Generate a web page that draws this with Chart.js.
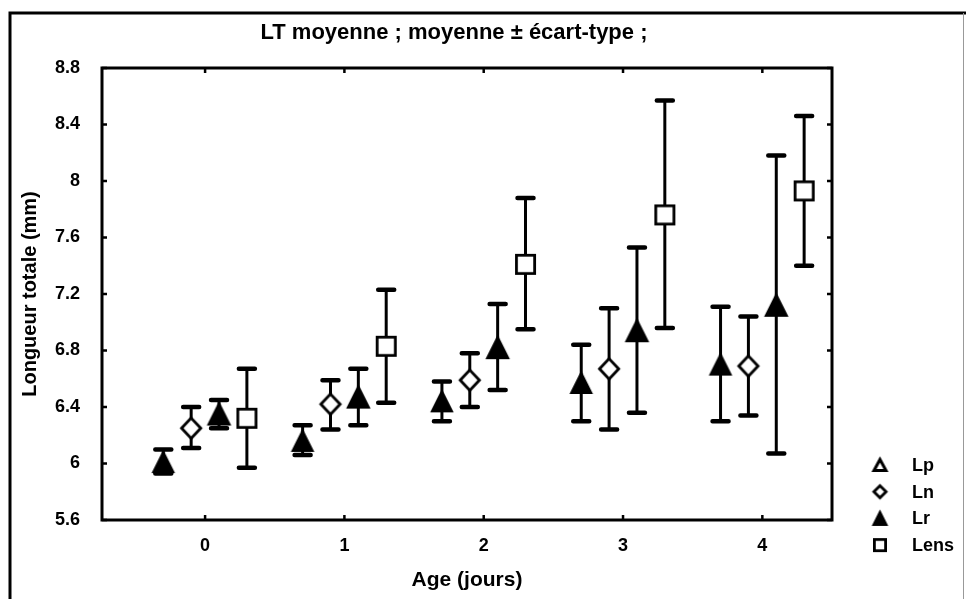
<!DOCTYPE html>
<html><head><meta charset="utf-8">
<script src="https://cdn.jsdelivr.net/npm/chart.js@4/dist/chart.umd.min.js"></script>
<style>html,body{margin:0;padding:0;background:#fff}canvas{display:block}</style>
</head><body>
<canvas id="c" width="966" height="599"></canvas>
<script>
// ---- data ----
const ages = [0, 1, 2, 3, 4];
const seriesNames = ['Lp', 'Ln', 'Lr', 'Lens'];
const seriesOffsets = [-0.3, -0.1, 0.1, 0.3];
const lpMean  = [6.01, 6.16, 6.44, 6.57, 6.70];
const lpLow   = [5.93, 6.06, 6.30, 6.30, 6.30];
const lpHigh  = [6.10, 6.27, 6.58, 6.84, 7.11];
const lnMean  = [6.25, 6.42, 6.59, 6.67, 6.69];
const lnLow   = [6.11, 6.24, 6.40, 6.24, 6.34];
const lnHigh  = [6.40, 6.59, 6.78, 7.10, 7.04];
const lrMean  = [6.35, 6.47, 6.82, 6.94, 7.12];
const lrLow   = [6.25, 6.27, 6.52, 6.36, 6.07];
const lrHigh  = [6.45, 6.67, 7.13, 7.53, 8.18];
const lensMean = [6.32, 6.83, 7.41, 7.76, 7.93];
const lensLow  = [5.97, 6.43, 6.95, 6.96, 7.40];
const lensHigh = [6.67, 7.23, 7.88, 8.57, 8.46];
const yTickValues = [5.6, 6, 6.4, 6.8, 7.2, 7.6, 8, 8.4, 8.8];
const yTickLabels = ['5.6', '6', '6.4', '6.8', '7.2', '7.6', '8', '8.4', '8.8'];
const xTickLabels = ['0', '1', '2', '3', '4'];
const chartTitle = 'LT moyenne ; moyenne \u00b1 \u00e9cart-type ;';
const xTitle = 'Age (jours)';
const yTitle = 'Longueur totale (mm)';

const FONT = '"Liberation Sans", Arial, Helvetica, sans-serif';

const means = [lpMean, lnMean, lrMean, lensMean];
const lows = [lpLow, lnLow, lrLow, lensLow];
const highs = [lpHigh, lnHigh, lrHigh, lensHigh];

// marker images
function makeMarker(kind, fill, w, h, lw) {
  const c = document.createElement('canvas');
  c.width = w + 4; c.height = h + 4;
  const g = c.getContext('2d');
  const cx = c.width / 2, cy = c.height / 2;
  g.beginPath();
  if (kind === 'tri') {
    g.moveTo(cx, cy - h / 2 + lw / 2);
    g.lineTo(cx + w / 2 - lw / 2, cy + h / 2 - lw / 2);
    g.lineTo(cx - w / 2 + lw / 2, cy + h / 2 - lw / 2);
    g.closePath();
  } else if (kind === 'dia') {
    g.moveTo(cx, cy - h / 2 + lw / 2);
    g.lineTo(cx + w / 2 - lw / 2, cy);
    g.lineTo(cx, cy + h / 2 - lw / 2);
    g.lineTo(cx - w / 2 + lw / 2, cy);
    g.closePath();
  } else {
    g.rect(cx - w / 2 + lw / 2, cy - h / 2 + lw / 2, w - lw, h - lw);
  }
  g.fillStyle = fill; g.fill();
  g.lineJoin = 'miter';
  g.strokeStyle = '#000'; g.lineWidth = lw; g.stroke();
  return c;
}
const markers = [
  makeMarker('tri', '#000', 22, 22, 2.5),
  makeMarker('dia', '#fff', 22, 23, 2.8),
  makeMarker('tri', '#000', 23, 23, 2.5),
  makeMarker('sq', '#fff', 21, 21, 2.8)
];
const legendMarkers = [
  makeMarker('tri', '#fff', 15, 14, 3),
  makeMarker('dia', '#fff', 15, 15, 2.8),
  makeMarker('tri', '#000', 15, 15, 2.5),
  makeMarker('sq', '#fff', 14, 14, 2.8)
];

const datasets = seriesNames.map((name, k) => ({
  label: name,
  data: ages.map((a, i) => ({x: a + seriesOffsets[k], y: means[k][i]})),
  errLow: lows[k],
  errHigh: highs[k],
  pointStyle: markers[k],
  pointRadius: 10,
  showLine: false,
  clip: false
}));

const errorBars = {
  id: 'errorBars',
  beforeDatasetsDraw(chart) {
    const ctx = chart.ctx, ys = chart.scales.y;
    ctx.save();
    ctx.strokeStyle = '#000';
    chart.data.datasets.forEach((ds, di) => {
      const meta = chart.getDatasetMeta(di);
      meta.data.forEach((pt, i) => {
        const x = pt.x;
        const yl = ys.getPixelForValue(ds.errLow[i]);
        const yh = ys.getPixelForValue(ds.errHigh[i]);
        ctx.lineWidth = 3;
        ctx.lineCap = 'butt';
        ctx.beginPath(); ctx.moveTo(x, yl); ctx.lineTo(x, yh); ctx.stroke();
        ctx.lineWidth = 4.5;
        ctx.lineCap = 'round';
        ctx.beginPath();
        ctx.moveTo(x - 8, yl); ctx.lineTo(x + 8, yl);
        ctx.moveTo(x - 8, yh); ctx.lineTo(x + 8, yh);
        ctx.stroke();
      });
    });
    ctx.restore();
  }
};

const frame = {
  id: 'frame',
  afterDatasetsDraw(chart) {
    const ctx = chart.ctx, a = chart.chartArea;
    const xs = chart.scales.x, ys = chart.scales.y;
    ctx.save();
    ctx.strokeStyle = '#000';
    ctx.lineWidth = 3;
    ctx.strokeRect(a.left, a.top, a.right - a.left, a.bottom - a.top);
    ctx.lineWidth = 2.5;
    ctx.beginPath();
    xs.ticks.forEach(t => {
      const px = xs.getPixelForValue(t.value);
      ctx.moveTo(px, a.bottom); ctx.lineTo(px, a.bottom - 5);
      ctx.moveTo(px, a.top); ctx.lineTo(px, a.top + 5);
    });
    ys.ticks.forEach(t => {
      const py = ys.getPixelForValue(t.value);
      ctx.moveTo(a.left, py); ctx.lineTo(a.left + 5, py);
      ctx.moveTo(a.right, py); ctx.lineTo(a.right - 5, py);
    });
    ctx.stroke();
    ctx.restore();
  },
  afterDraw(chart) {
    const ctx = chart.ctx;
    ctx.save();
    // outer page frame
    ctx.strokeStyle = '#000';
    ctx.lineWidth = 3;
    ctx.beginPath();
    ctx.moveTo(10, 599); ctx.lineTo(10, 13); ctx.lineTo(966, 13);
    ctx.stroke();
    ctx.strokeStyle = '#999';
    ctx.lineWidth = 1;
    ctx.beginPath(); ctx.moveTo(963.5, 13); ctx.lineTo(963.5, 599); ctx.stroke();
    // title
    ctx.fillStyle = '#000';
    ctx.font = 'bold 22px ' + FONT;
    ctx.textAlign = 'center';
    ctx.textBaseline = 'middle';
    ctx.fillText(chartTitle, 454, 33);
    // legend
    ctx.font = 'bold 18px ' + FONT;
    ctx.textAlign = 'left';
    chart.data.datasets.forEach((ds, k) => {
      const y = 465 + k * 26.7;
      const m = legendMarkers[k];
      ctx.drawImage(m, 880 - m.width / 2, y - m.height / 2);
      ctx.fillStyle = '#000';
      ctx.fillText(ds.label, 912, y + 1);
    });
    ctx.restore();
  }
};

new Chart(document.getElementById('c'), {
  type: 'scatter',
  data: {datasets},
  options: {
    responsive: false,
    animation: false,
    events: [],
    layout: {padding: {left: 0, right: 134, top: 68, bottom: 0}},
    plugins: {legend: {display: false}, tooltip: {enabled: false}, title: {display: false}},
    scales: {
      x: {
        type: 'linear', min: -0.74, max: 4.5,
        grid: {display: false, drawTicks: false},
        border: {display: false},
        afterBuildTicks(s) { s.ticks = ages.map(v => ({value: v})); },
        afterFit(s) { s.height = 79; },
        ticks: {
          padding: 15, color: '#000',
          font: {family: FONT, size: 18, weight: 'bold'},
          callback: (v) => xTickLabels[ages.indexOf(v)] ?? ''
        },
        title: {display: true, text: xTitle, color: '#000', padding: {top: 0, bottom: 6},
          font: {family: FONT, size: 21, weight: 'bold'}}
      },
      y: {
        type: 'linear', min: 5.6, max: 8.8,
        grid: {display: false, drawTicks: false},
        border: {display: false},
        afterBuildTicks(s) { s.ticks = yTickValues.map(v => ({value: v})); },
        afterFit(s) { s.width = 102; },
        ticks: {
          padding: 22, color: '#000',
          font: {family: FONT, size: 18, weight: 'bold'},
          callback: (v) => yTickLabels[yTickValues.indexOf(v)] ?? ''
        },
        title: {display: true, text: yTitle, color: '#000', padding: {top: 18, bottom: 0},
          font: {family: FONT, size: 20, weight: 'bold'}}
      }
    }
  },
  plugins: [errorBars, frame]
});
</script>
</body></html>
